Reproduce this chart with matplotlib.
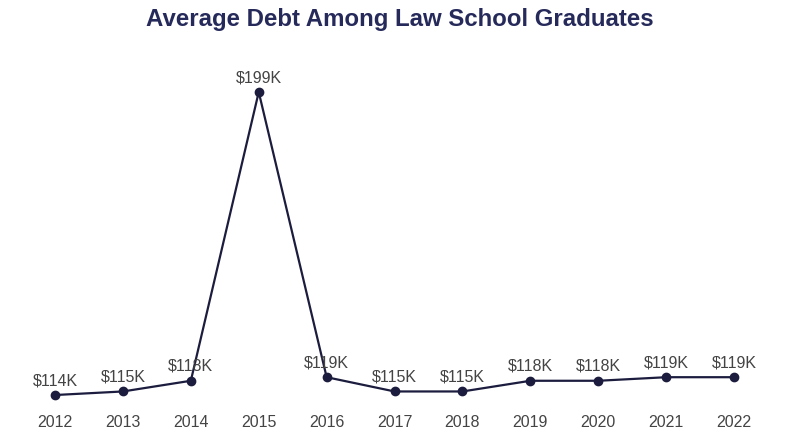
import matplotlib.pyplot as plt

years = [2012, 2013, 2014, 2015, 2016, 2017, 2018, 2019, 2020, 2021, 2022]
debt_k = [114, 115, 118, 199, 119, 115, 115, 118, 118, 119, 119]

line_color = "#1c1d3e"
text_color = "#444444"
title_color = "#262a5a"

plt.rcParams['font.family'] = ['Liberation Sans', 'DejaVu Sans']

fig = plt.figure(figsize=(8, 4.34), dpi=100)
ax = fig.add_axes([0, 0.0668, 1, 0.795])

ax.plot(years, debt_k, color=line_color, linewidth=1.6,
        marker='o', markersize=6)

for x, v in zip(years, debt_k):
    ax.annotate(f"${v}K", (x, v), xytext=(0, 5), textcoords='offset points',
                ha='center', va='bottom', fontsize=11.5, color=text_color)

ax.set_xlim(2011.19, 2022.97)
ax.set_ylim(111.2, 208.0)
ax.set_xticks(years)
ax.set_xticklabels([str(y) for y in years], fontsize=11.5, color=text_color)
ax.tick_params(axis='x', length=0, pad=7)
ax.set_yticks([])
for s in ax.spines.values():
    s.set_visible(False)

fig.text(0.5, 0.956, "Average Debt Among Law School Graduates", ha='center',
         va='center', fontsize=17.3, fontweight='bold', color=title_color)

fig.savefig("out.png", dpi=100)
plt.close(fig)
